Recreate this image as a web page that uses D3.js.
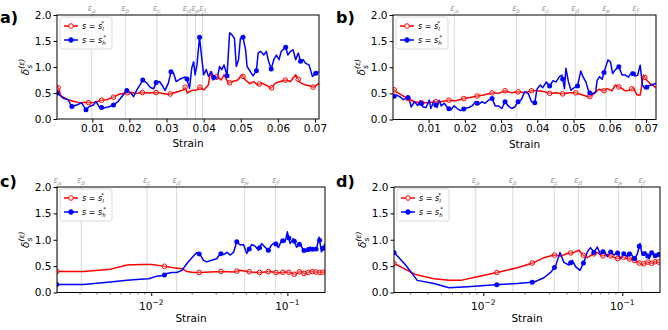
<!DOCTYPE html>
<html><head><meta charset="utf-8">
<script src="https://cdn.jsdelivr.net/npm/d3@7"></script>
<style>body{margin:0;background:#fff} text{font-family:"DejaVu Sans",sans-serif}</style>
</head><body><svg id="c" width="668" height="330"></svg>
<script>
// ---------- DATA ----------
const redA = [[0.0005,0.63],[0.001,0.58],[0.0015,0.45],[0.0031,0.38],[0.0049,0.34],[0.0067,0.31],[0.008,0.32],[0.0098,0.31],[0.0112,0.33],[0.0121,0.36],[0.0139,0.37],[0.0157,0.42],[0.017,0.47],[0.0188,0.50],[0.0206,0.51],[0.022,0.49],[0.0233,0.51],[0.0251,0.50],[0.0274,0.51],[0.0292,0.49],[0.0305,0.47],[0.0319,0.50],[0.0332,0.53],[0.0346,0.56],[0.035,0.61],[0.0356,0.50],[0.0368,0.55],[0.0382,0.56],[0.039,0.61],[0.0401,0.56],[0.0413,0.66],[0.0418,0.91],[0.0425,0.75],[0.0436,0.82],[0.0447,0.75],[0.0455,0.85],[0.0467,0.69],[0.0479,0.72],[0.0492,0.75],[0.0503,0.85],[0.0513,0.75],[0.0524,0.68],[0.0535,0.72],[0.0544,0.66],[0.0557,0.69],[0.0571,0.64],[0.0582,0.59],[0.0593,0.69],[0.0607,0.72],[0.0621,0.75],[0.0634,0.72],[0.0648,0.85],[0.066,0.70],[0.0672,0.66],[0.0684,0.64],[0.0697,0.61],[0.0711,0.69]];
const blueA = [[0.0005,0.50],[0.0022,0.40],[0.0035,0.37],[0.0044,0.24],[0.0058,0.27],[0.0071,0.31],[0.0083,0.18],[0.0092,0.24],[0.0103,0.27],[0.011,0.34],[0.0119,0.23],[0.013,0.21],[0.0143,0.23],[0.0157,0.27],[0.017,0.34],[0.0184,0.47],[0.0193,0.55],[0.0204,0.50],[0.0211,0.43],[0.022,0.56],[0.0229,0.66],[0.0236,0.75],[0.0247,0.69],[0.0256,0.61],[0.0265,0.58],[0.0272,0.70],[0.0281,0.72],[0.029,0.63],[0.0296,0.55],[0.0305,0.69],[0.0312,0.91],[0.0319,0.88],[0.0326,0.72],[0.0337,0.77],[0.035,0.81],[0.0355,0.77],[0.0362,0.59],[0.0368,0.98],[0.0373,1.10],[0.0377,0.85],[0.0382,1.04],[0.0389,1.57],[0.0395,1.17],[0.04,0.85],[0.0407,0.95],[0.0413,0.82],[0.0421,0.91],[0.0427,0.80],[0.0436,0.77],[0.0443,1.01],[0.0449,0.95],[0.0455,1.04],[0.0463,0.83],[0.047,1.66],[0.0476,1.62],[0.0483,1.55],[0.0488,1.01],[0.0494,1.14],[0.0499,1.55],[0.0506,1.57],[0.0513,1.33],[0.0517,1.01],[0.0526,0.91],[0.0533,0.83],[0.0542,0.93],[0.0547,1.27],[0.0554,1.30],[0.0562,1.23],[0.0569,1.30],[0.0575,1.11],[0.0582,0.96],[0.0589,1.14],[0.0596,1.23],[0.0603,1.14],[0.0609,1.30],[0.0621,1.38],[0.0627,1.23],[0.0634,1.30],[0.0641,1.33],[0.0648,1.14],[0.0655,1.27],[0.0661,1.11],[0.0668,1.14],[0.0675,1.07],[0.0684,1.04],[0.0693,0.82],[0.0702,0.88],[0.0711,0.91]];
const redB = [[0.0002,0.59],[0.001,0.53],[0.0025,0.47],[0.0043,0.40],[0.0061,0.34],[0.0079,0.32],[0.0102,0.32],[0.0115,0.34],[0.0134,0.34],[0.0156,0.37],[0.0175,0.36],[0.0197,0.40],[0.0215,0.42],[0.0234,0.45],[0.0252,0.47],[0.0275,0.51],[0.0293,0.50],[0.0311,0.55],[0.0329,0.51],[0.0347,0.53],[0.0365,0.51],[0.0384,0.55],[0.0402,0.55],[0.042,0.53],[0.0434,0.50],[0.0452,0.51],[0.047,0.49],[0.0488,0.51],[0.0506,0.51],[0.0525,0.47],[0.0543,0.43],[0.0556,0.49],[0.057,0.58],[0.0584,0.55],[0.0593,0.59],[0.0606,0.55],[0.0615,0.66],[0.0629,0.61],[0.0643,0.55],[0.0656,0.56],[0.0665,0.61],[0.0675,0.47],[0.0684,0.47],[0.0693,0.85],[0.0702,0.75],[0.0711,0.69],[0.0727,0.61]];
const blueB = [[0.0002,0.43],[0.001,0.47],[0.0022,0.43],[0.003,0.38],[0.0038,0.40],[0.0045,0.43],[0.0052,0.24],[0.0061,0.34],[0.007,0.27],[0.0077,0.36],[0.0084,0.24],[0.0093,0.23],[0.0102,0.37],[0.0106,0.21],[0.0115,0.36],[0.0123,0.23],[0.0129,0.37],[0.0135,0.26],[0.0143,0.31],[0.0152,0.23],[0.0161,0.18],[0.017,0.26],[0.0179,0.21],[0.0188,0.17],[0.0199,0.21],[0.0211,0.23],[0.022,0.26],[0.0229,0.34],[0.0238,0.29],[0.0247,0.34],[0.0256,0.31],[0.0265,0.37],[0.0275,0.40],[0.0284,0.26],[0.0293,0.26],[0.0302,0.21],[0.0311,0.34],[0.032,0.26],[0.0329,0.21],[0.0338,0.24],[0.0347,0.34],[0.0356,0.38],[0.0365,0.53],[0.0375,0.50],[0.0384,0.34],[0.0393,0.32],[0.0399,0.58],[0.0408,0.66],[0.0415,0.61],[0.0425,0.72],[0.0434,0.64],[0.0443,0.74],[0.0452,0.72],[0.0461,0.82],[0.0468,0.85],[0.0475,0.59],[0.0479,0.98],[0.0486,0.72],[0.0493,0.56],[0.0502,0.61],[0.0511,0.64],[0.052,0.93],[0.0526,0.82],[0.0534,0.72],[0.0543,0.51],[0.0552,0.49],[0.0561,0.53],[0.0565,0.75],[0.0572,0.82],[0.0579,0.77],[0.0586,0.95],[0.0595,1.14],[0.0602,1.10],[0.0608,0.88],[0.0615,0.95],[0.0625,1.01],[0.0634,0.85],[0.0643,0.85],[0.0652,0.81],[0.0661,0.91],[0.067,0.83],[0.0677,0.85],[0.0684,1.04],[0.069,0.66],[0.0697,0.59],[0.0706,0.64],[0.0727,0.69]];
const redC = [[0.00203,0.40],[0.00319,0.40],[0.00501,0.44],[0.00664,0.52],[0.0083,0.53],[0.0101,0.53],[0.0123,0.50],[0.0146,0.47],[0.0168,0.45],[0.0183,0.40],[0.0205,0.38],[0.0229,0.38],[0.0271,0.39],[0.034,0.40],[0.0402,0.39],[0.045,0.42],[0.0532,0.39],[0.063,0.38],[0.0746,0.40],[0.0859,0.37],[0.0962,0.39],[0.1047,0.38],[0.1138,0.34],[0.124,0.40],[0.135,0.35],[0.147,0.40],[0.16,0.39],[0.174,0.38],[0.189,0.39]];
const blueC = [[0.00203,0.15],[0.00319,0.15],[0.00501,0.20],[0.00664,0.23],[0.0083,0.25],[0.0096,0.26],[0.011,0.31],[0.0123,0.32],[0.013,0.36],[0.0142,0.38],[0.0154,0.38],[0.0168,0.42],[0.0183,0.55],[0.0199,0.66],[0.0216,0.76],[0.0229,0.72],[0.0242,0.61],[0.0256,0.58],[0.0278,0.61],[0.0303,0.64],[0.0321,0.74],[0.034,0.72],[0.036,0.76],[0.0381,0.71],[0.0402,0.76],[0.0425,0.96],[0.045,0.90],[0.0476,0.91],[0.0503,0.74],[0.0526,0.83],[0.0547,0.91],[0.0579,0.88],[0.0613,0.80],[0.0647,0.93],[0.0685,0.86],[0.0724,0.80],[0.0766,0.90],[0.081,0.95],[0.0859,0.85],[0.0908,0.99],[0.0962,0.96],[0.1,1.15],[0.1047,0.93],[0.1106,1.02],[0.117,0.86],[0.124,0.93],[0.131,0.80],[0.139,0.78],[0.147,0.86],[0.155,0.80],[0.164,0.83],[0.171,1.05],[0.178,0.77],[0.189,0.93]];
const redD = [[0.00228,0.55],[0.00326,0.34],[0.00442,0.26],[0.00566,0.23],[0.00687,0.23],[0.00905,0.30],[0.013,0.39],[0.0176,0.47],[0.0232,0.57],[0.0273,0.66],[0.0322,0.71],[0.036,0.69],[0.0402,0.74],[0.0449,0.76],[0.0488,0.80],[0.0515,0.72],[0.056,0.66],[0.0608,0.72],[0.066,0.76],[0.0718,0.69],[0.078,0.72],[0.0848,0.68],[0.092,0.64],[0.1,0.68],[0.1087,0.64],[0.118,0.63],[0.128,0.58],[0.139,0.53],[0.151,0.58],[0.164,0.55],[0.174,0.59],[0.187,0.57]];
const blueD = [[0.00228,0.76],[0.00276,0.52],[0.00335,0.23],[0.00442,0.17],[0.00566,0.09],[0.00767,0.11],[0.013,0.15],[0.0176,0.17],[0.0232,0.20],[0.0273,0.28],[0.0305,0.38],[0.0331,0.50],[0.0356,0.76],[0.038,0.57],[0.0413,0.52],[0.0437,0.61],[0.0461,0.49],[0.0496,0.42],[0.053,0.58],[0.056,0.77],[0.0591,0.85],[0.0625,0.76],[0.066,0.86],[0.0698,0.72],[0.0738,0.80],[0.078,0.68],[0.0824,0.77],[0.0871,0.71],[0.092,0.76],[0.0973,0.64],[0.1028,0.74],[0.1087,0.68],[0.1148,0.76],[0.1213,0.63],[0.128,0.72],[0.134,0.93],[0.139,0.71],[0.147,0.77],[0.156,0.64],[0.164,0.78],[0.174,0.68],[0.187,0.74]];

// marker strains (every n-th sample of original series)
const markRedA = [0.0008,0.009,0.0125,0.0157,0.0195,0.0235,0.0272,0.031,0.035,0.039,0.0435,0.047,0.0506,0.055,0.0583,0.062,0.0655,0.0695];
const markBlueA = [0.0005,0.0045,0.0083,0.0125,0.0157,0.0193,0.0236,0.0272,0.0312,0.0355,0.0389,0.0427,0.0463,0.0506,0.0542,0.0582,0.0621,0.0661,0.0702];
const markRedB = [0.0005,0.0043,0.008,0.012,0.0156,0.0197,0.0234,0.0275,0.0311,0.0347,0.0384,0.0434,0.047,0.0506,0.0545,0.0584,0.0625,0.0661,0.0697];
const markBlueB = [0.0005,0.0043,0.008,0.012,0.0156,0.0197,0.0234,0.0275,0.0311,0.0347,0.0393,0.0434,0.047,0.0511,0.0545,0.0584,0.0625,0.0665,0.0702];
const markLog = [0.0125,0.0225,0.0325,0.0425,0.0525,0.0625,0.0725,0.0825,0.0925,0.1025,0.1125,0.1225,0.1325,0.1425,0.1525,0.1625,0.1725,0.1825];

const epsNames = ["a","b","c","d","e","f"];
const epsA = [0.00984,0.0189,0.0274,0.0355,0.0378,0.0397];
const epsB = [0.0171,0.0342,0.0423,0.0505,0.0590,0.0671];
const epsC = [0.00205,0.00306,0.0093,0.01535,0.0486,0.0817];
const epsD = [0.00882,0.0163,0.0324,0.0482,0.0936,0.138];

const linTicks = [0.01,0.02,0.03,0.04,0.05,0.06,0.07];
const logTicks = [0.01,0.1];
const yTicks = [0,0.5,1.0,1.5,2.0];

// ---------- LAYOUT ----------
const panels = [
  {lab:"a)", lx:0, ly:23, xr:[57,319], yr:[119,15], log:false, dom:[0.00049,0.07108], eps:epsA, red:redA, blue:blueA, mr:markRedA, mb:markBlueA},
  {lab:"b)", lx:336, ly:23, xr:[393,656], yr:[119.5,15], log:false, dom:[0.00017,0.07276], eps:epsB, red:redB, blue:blueB, mr:markRedB, mb:markBlueB},
  {lab:"c)", lx:0, ly:187, xr:[57,325], yr:[292.5,187], log:true, dom:[0.002032,0.189], eps:epsC, red:redC, blue:blueC, mr:[0.00203].concat(markLog), mb:[0.00203].concat(markLog)},
  {lab:"d)", lx:336, ly:187, xr:[394,660], yr:[292.5,187], log:true, dom:[0.002278,0.1867], eps:epsD, red:redD, blue:blueD, mr:[0.00228].concat(markLog), mb:[0.00228].concat(markLog)}
];

const svg = d3.select("#c");
const RED = "#ff0000", BLUE = "#0000ff";

function interp(series, x, log){
  const xs = series.map(d=>d[0]);
  const i = d3.bisectLeft(xs, x);
  if (i<=0) return series[0][1];
  if (i>=series.length) return series[series.length-1][1];
  const a=series[i-1], b=series[i];
  const t = log ? (Math.log(x)-Math.log(a[0]))/(Math.log(b[0])-Math.log(a[0])) : (x-a[0])/(b[0]-a[0]);
  return a[1]+(b[1]-a[1])*t;
}

panels.forEach(p=>{
  const g = svg.append("g");
  const x = (p.log ? d3.scaleLog() : d3.scaleLinear()).domain(p.dom).range(p.xr);
  const y = d3.scaleLinear().domain([0,2]).range(p.yr);
  const [X0,X1]=p.xr, [Y1,Y0]=p.yr;
  const clipId = "clip"+p.lab[0];
  svg.append("clipPath").attr("id",clipId).append("rect").attr("x",X0).attr("y",Y0).attr("width",X1-X0).attr("height",Y1-Y0);

  // epsilon lines
  p.eps.forEach((e,i)=>{
    g.append("line").attr("x1",x(e)).attr("x2",x(e)).attr("y1",Y1).attr("y2",Y0-3)
      .attr("stroke","#cfcfcf").attr("stroke-width",0.8);
    const t = g.append("text").attr("x",x(e)).attr("y",Y0-4).attr("text-anchor","middle")
      .attr("font-size",8).attr("fill","#9a9a9a");
    t.append("tspan").attr("font-style","italic").text("ε");
    t.append("tspan").attr("font-size",6).attr("dy",1.5).attr("font-style","italic").text(epsNames[i]);
  });

  const line = d3.line().x(d=>x(d[0])).y(d=>y(d[1]));
  const dg = g.append("g").attr("clip-path",`url(#${clipId})`);
  dg.append("path").datum(p.red).attr("d",line).attr("fill","none").attr("stroke",RED).attr("stroke-width",1.5).attr("stroke-linejoin","round");
  dg.append("path").datum(p.blue).attr("d",line).attr("fill","none").attr("stroke",BLUE).attr("stroke-width",1.5).attr("stroke-linejoin","round");
  dg.selectAll(".mr").data(p.mr).join("circle").attr("cx",d=>x(d)).attr("cy",d=>y(interp(p.red,d,p.log))).attr("r",2.3)
    .attr("fill","#fff").attr("fill-opacity",0.3).attr("stroke",RED).attr("stroke-width",1);
  dg.selectAll(".mb").data(p.mb).join("circle").attr("cx",d=>x(d)).attr("cy",d=>y(interp(p.blue,d,p.log))).attr("r",2.5)
    .attr("fill",BLUE);

  // axes
  const xa = d3.axisBottom(x).tickSizeOuter(0).tickSize(3.5).tickPadding(2);
  if (p.log){ xa.tickValues(logTicks).tickFormat(()=> ""); }
  else { xa.tickValues(linTicks).tickFormat(d3.format(".2f")); }
  const gx = g.append("g").attr("transform",`translate(0,${Y1})`).call(xa);
  gx.select(".domain").remove();
  gx.selectAll("text").attr("font-size",10.5).attr("fill","#000").attr("font-family","DejaVu Sans");
  if (p.log){
    // minor ticks
    const minors = [];
    [0.001,0.01,0.1].forEach(dec=>{ for(let k=2;k<10;k++){ const v=dec*k; if(v>p.dom[0]&&v<p.dom[1]) minors.push(v);} });
    g.selectAll(".minor"+p.lab[0]).data(minors).join("line").attr("x1",d=>x(d)).attr("x2",d=>x(d)).attr("y1",Y1).attr("y2",Y1+2)
      .attr("stroke","#000").attr("stroke-width",0.6);
    logTicks.forEach(v=>{
      const t = g.append("text").attr("x",x(v)).attr("y",Y1+17).attr("text-anchor","middle").attr("font-size",10.5);
      t.append("tspan").text("10");
      t.append("tspan").attr("font-size",7.5).attr("dy",-5).text("−" + Math.round(-Math.log10(v)));
    });
  }
  const ya = d3.axisLeft(y).tickValues(yTicks).tickFormat(d3.format(".1f")).tickSize(3.5).tickPadding(2).tickSizeOuter(0);
  const gy = g.append("g").attr("transform",`translate(${X0},0)`).call(ya);
  gy.select(".domain").remove();
  gy.selectAll("text").attr("font-size",10.5).attr("fill","#000").attr("font-family","DejaVu Sans");

  // spines
  g.append("rect").attr("x",X0).attr("y",Y0).attr("width",X1-X0).attr("height",Y1-Y0)
    .attr("fill","none").attr("stroke","#000").attr("stroke-width",1);

  // axis labels
  g.append("text").attr("x",(X0+X1)/2).attr("y",Y1+(p.log?29:28)).attr("text-anchor","middle").attr("font-size",10.5).text("Strain");
  const yl = g.append("text").attr("transform",`translate(${X0-28},${(Y0+Y1)/2}) rotate(-90)`).attr("text-anchor","middle").attr("font-size",10.5);
  yl.append("tspan").attr("font-style","italic").text("δ");
  yl.append("tspan").attr("font-size",7.5).attr("dy",3).attr("font-style","italic").text("s");
  yl.append("tspan").attr("font-size",7.5).attr("dy",-8).attr("dx",-4).attr("font-style","italic").text("(ε)");

  // panel label
  g.append("text").attr("x",p.lx).attr("y",p.ly).attr("font-size",16).attr("font-weight","bold").attr("font-family","Liberation Sans, Arial").text(p.lab);

  // legend
  const lg = g.append("g").attr("transform",`translate(${X0+3},${Y0+2})`);
  lg.append("rect").attr("width",52).attr("height",32).attr("rx",2).attr("fill","#fff").attr("fill-opacity",0.8).attr("stroke","#d0d0d0").attr("stroke-width",0.8);
  [{c:RED,open:true,sub:"l",yy:9},{c:BLUE,open:false,sub:"h",yy:23}].forEach(e=>{
    lg.append("line").attr("x1",4).attr("x2",18).attr("y1",e.yy).attr("y2",e.yy).attr("stroke",e.c).attr("stroke-width",1.5);
    lg.append("circle").attr("cx",11).attr("cy",e.yy).attr("r",2.3).attr("fill",e.open?"#fff":e.c).attr("stroke",e.c).attr("stroke-width",1);
    const t = lg.append("text").attr("x",22).attr("y",e.yy+3).attr("font-size",8);
    t.append("tspan").attr("font-style","italic").text("s");
    t.append("tspan").text(" = ");
    t.append("tspan").attr("font-style","italic").text("s");
    t.append("tspan").attr("font-size",5.5).attr("dy",2).attr("font-style","italic").text(e.sub);
    t.append("tspan").attr("font-size",5.5).attr("dy",-6).attr("dx",-2.5).text("*");
  });
});
</script></body></html>
